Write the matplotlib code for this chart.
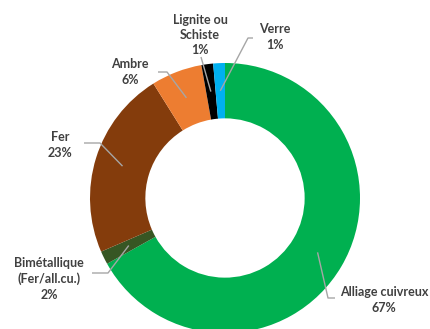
import numpy as np
import matplotlib
matplotlib.use("Agg")
import matplotlib.pyplot as plt

# data (percent shares, labels show rounded values)
labels = ["Alliage cuivreux", "Bimétallique\n(Fer/all.cu.)", "Fer", "Ambre",
          "Lignite ou\nSchiste", "Verre"]
values = [66.9, 1.6, 22.6, 6.1, 1.4, 1.4]
colors = ["#00B050", "#375623", "#843C0C", "#ED7D31", "#000000", "#00B0F0"]

W, H = 430, 329
cx, cy = 225, H - 198    # pie centre in pixel units (y up)
R = 135
ring = 0.41

fig = plt.figure(figsize=(W / 100, H / 100), dpi=100)
ax = fig.add_axes([0, 0, 1, 1])

wedges, _ = ax.pie(values, colors=colors, startangle=90, counterclock=False,
                   radius=R, center=(cx, cy), frame=True,
                   wedgeprops=dict(width=R * ring, linewidth=0))
ax.set_xlim(0, W)
ax.set_ylim(0, H)
ax.axis("off")

# label layout: text centre, elbow, end of leader (image pixel coords, y down)
lay = [
    ((384, 300), (328, 298), (335, 298)),
    ((49, 279), (108, 273), (92, 273)),
    ((60, 145), (100, 143), (84, 143)),
    ((130, 72), (167, 72), (158, 72)),
    ((200, 35), (201, 57), (201, 57)),
    ((275, 37), (248, 38), (253, 38)),
]

r_mid = R * (1 - ring / 2)
total = sum(values)
for w, lab, v, (t, e1, e2) in zip(wedges, labels, values, lay):
    ang = np.deg2rad((w.theta1 + w.theta2) / 2)
    sx, sy = cx + r_mid * np.cos(ang), cy + r_mid * np.sin(ang)
    ax.plot([sx, e1[0], e2[0]], [sy, H - e1[1], H - e2[1]],
            color="#A6A6A6", lw=1, solid_capstyle="butt")
    ax.text(t[0], H - t[1], f"{lab}\n{v / total * 100:.0f}%",
            ha="center", va="center", fontsize=9, fontweight="bold",
            family="Lato", color="#404040", linespacing=1.35)

fig.savefig("out.png", dpi=100)
